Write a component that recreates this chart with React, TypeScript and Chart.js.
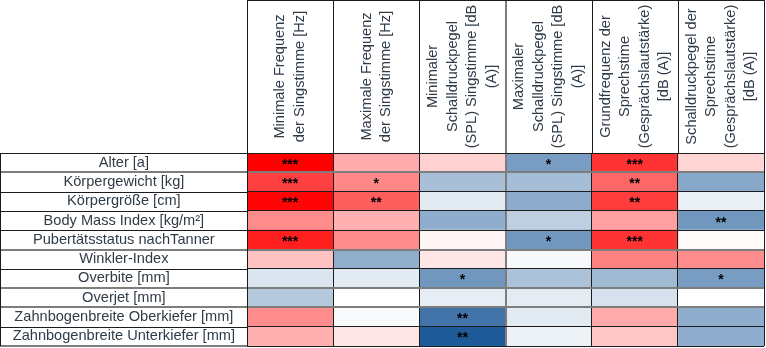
import React, { useEffect, useRef } from "react";
import { Chart, registerables } from "chart.js";

Chart.register(...registerables);

const rowLabels = [
  "Alter [a]",
  "Körpergewicht [kg]",
  "Körpergröße [cm]",
  "Body Mass Index [kg/m²]",
  "Pubertätsstatus nachTanner",
  "Winkler-Index",
  "Overbite [mm]",
  "Overjet [mm]",
  "Zahnbogenbreite Oberkiefer [mm]",
  "Zahnbogenbreite Unterkiefer [mm]",
];

const columnHeaders = [
  ["Minimale Frequenz", "der Singstimme [Hz]"],
  ["Maximale Frequenz", "der Singstimme [Hz]"],
  ["Minimaler", "Schalldruckpegel", "(SPL) Singstimme [dB", "(A)]"],
  ["Maximaler", "Schalldruckpegel", "(SPL) Singstimme [dB", "(A)]"],
  ["Grundfrequenz der", "Sprechstime", "(Gesprächslautstärke)", "[dB (A)]"],
  ["Schalldruckpegel der", "Sprechstime", "(Gesprächslautstärke)", "[dB (A)]"],
];

// signed correlation strength per column (positive = red, negative = blue)
const minFreqSing = [1.0, 0.75, 0.98, 0.45, 0.88, 0.24, -0.16, -0.33, 0.45, 0.31];
const maxFreqSing = [0.33, 0.47, 0.63, 0.31, 0.45, -0.49, -0.13, 0.0, -0.03, 0.1];
const minSplSing = [0.18, -0.39, -0.13, -0.5, 0.04, 0.1, -0.63, -0.11, -0.84, -1.0];
const maxSplSing = [-0.6, -0.4, -0.51, -0.29, -0.63, -0.04, -0.37, -0.12, -0.13, -0.08];
const f0Speech = [0.8, 0.6, 0.76, 0.37, 0.8, 0.49, -0.42, -0.18, 0.33, 0.22];
const splSpeech = [0.17, -0.53, -0.1, -0.63, 0.02, 0.45, -0.6, 0.0, -0.5, -0.5];

const starsMinFreq = ["***", "***", "***", "", "***", "", "", "", "", ""];
const starsMaxFreq = ["", "*", "**", "", "", "", "", "", "", ""];
const starsMinSpl = ["", "", "", "", "", "", "*", "", "**", "**"];
const starsMaxSpl = ["*", "", "", "", "*", "", "", "", "", ""];
const starsF0 = ["***", "**", "**", "", "***", "", "", "", "", ""];
const starsSpl = ["", "", "", "**", "", "", "*", "", "", ""];

const columnValues = [minFreqSing, maxFreqSing, minSplSing, maxSplSing, f0Speech, splSpeech];
const columnStars = [starsMinFreq, starsMaxFreq, starsMinSpl, starsMaxSpl, starsF0, starsSpl];

const FONT = "'Liberation Sans', Arial, sans-serif";
const TEXT_COLOR = "#2f3b47";
const LINE_COLOR = "#1c1c1c";
const SOFT_LINE = "#7d7d7d";
const softRowLines = [1, 5, 7, 8, 10];
const softColLines = [3];

function cellColor(v: number): string {
  const t = Math.min(1, Math.abs(v));
  if (v >= 0) {
    const c = Math.round(255 * (1 - t));
    return `rgb(255,${c},${c})`;
  }
  const r = Math.round(255 - t * (255 - 31));
  const g = Math.round(255 - t * (255 - 90));
  const b = Math.round(255 - t * (255 - 153));
  return `rgb(${r},${g},${b})`;
}

const tablePlugin = {
  id: "tableDecor",
  afterDraw(chart: any) {
    const ctx = chart.ctx;
    const xs = chart.scales.x;
    const ys = chart.scales.y;
    const area = chart.chartArea;
    const n = rowLabels.length;
    const step = (area.bottom - area.top) / n;

    ctx.save();
    // label column lines
    for (let i = 0; i <= n; i++) {
      const soft = softRowLines.includes(i);
      ctx.strokeStyle = soft ? SOFT_LINE : LINE_COLOR;
      ctx.lineWidth = soft ? 2 : 1;
      const y = soft ? Math.round(area.top + i * step) : Math.round(area.top + i * step) + 0.5;
      ctx.beginPath();
      ctx.moveTo(0, y);
      ctx.lineTo(area.left, y);
      ctx.stroke();
    }
    ctx.strokeStyle = LINE_COLOR;
    ctx.lineWidth = 1;
    ctx.beginPath();
    ctx.moveTo(0.5, Math.round(area.top) + 0.5);
    ctx.lineTo(0.5, Math.round(area.bottom));
    ctx.stroke();

    // header lines
    for (let i = 0; i <= columnHeaders.length; i++) {
      const soft = softColLines.includes(i);
      ctx.strokeStyle = soft ? SOFT_LINE : LINE_COLOR;
      ctx.lineWidth = soft ? 2 : 1;
      const xv = xs.getPixelForValue(i);
      const x = soft ? Math.round(xv) : Math.round(xv) + 0.5;
      ctx.beginPath();
      ctx.moveTo(x, 0);
      ctx.lineTo(x, area.top);
      ctx.stroke();
    }
    ctx.strokeStyle = LINE_COLOR;
    ctx.lineWidth = 1;
    ctx.beginPath();
    ctx.moveTo(Math.round(xs.getPixelForValue(0)) + 0.5, 0.5);
    ctx.lineTo(Math.round(xs.getPixelForValue(columnHeaders.length)) + 0.5, 0.5);
    ctx.stroke();

    // header text
    ctx.fillStyle = TEXT_COLOR;
    ctx.font = `14.6px ${FONT}`;
    ctx.textAlign = "center";
    ctx.textBaseline = "middle";
    const lh = 19.5;
    columnHeaders.forEach((lines, i) => {
      const cx = (xs.getPixelForValue(i) + xs.getPixelForValue(i + 1)) / 2;
      const cy = area.top / 2;
      ctx.save();
      ctx.translate(cx, cy);
      ctx.rotate(-Math.PI / 2);
      lines.forEach((line, j) => {
        ctx.fillText(line, 0, (j - (lines.length - 1) / 2) * lh);
      });
      ctx.restore();
    });

    // significance stars
    ctx.fillStyle = "#000";
    ctx.font = `bold 14px ${FONT}`;
    ctx.textBaseline = "alphabetic";
    columnStars.forEach((stars, ci) => {
      const cx = (xs.getPixelForValue(ci) + xs.getPixelForValue(ci + 1)) / 2;
      stars.forEach((s, ri) => {
        if (!s) return;
        const cy = ys.getPixelForValue(ri);
        ctx.fillText(s, cx, cy + 6);
      });
    });
    ctx.restore();
  },
};

export default function App() {
  const ref = useRef<HTMLCanvasElement | null>(null);

  useEffect(() => {
    document.body.style.margin = "0";
    const canvas = ref.current;
    if (!canvas) return;
    const datasets = columnValues.map((vals, i) => ({
      label: columnHeaders[i].join(" "),
      data: vals.map(() => 1),
      backgroundColor: vals.map(cellColor),
      borderWidth: 0,
      barPercentage: 1,
      categoryPercentage: 1,
    }));
    const chart = new Chart(canvas, {
      type: "bar",
      data: { labels: rowLabels, datasets },
      plugins: [tablePlugin],
      options: {
        indexAxis: "y",
        animation: false,
        responsive: false,
        devicePixelRatio: 1,
        layout: { padding: { top: 153, right: 2, bottom: 2, left: 0 } },
        plugins: { legend: { display: false }, tooltip: { enabled: false } },
        scales: {
          x: {
            type: "linear",
            stacked: true,
            min: 0,
            max: columnHeaders.length,
            position: "top",
            ticks: { display: false, stepSize: 1 },
            grid: {
              color: (c: any) => (softColLines.includes(c.index) ? SOFT_LINE : LINE_COLOR),
              lineWidth: (c: any) => (softColLines.includes(c.index) ? 2 : 1),
              drawTicks: false,
              z: 1,
            },
            border: { display: true, color: LINE_COLOR, z: 1 },
            afterFit: (s: any) => {
              s.height = 0;
            },
          },
          y: {
            type: "category",
            stacked: true,
            offset: true,
            grid: {
              offset: true,
              color: (c: any) => (softRowLines.includes(c.index) ? SOFT_LINE : LINE_COLOR),
              lineWidth: (c: any) => (softRowLines.includes(c.index) ? 2 : 1),
              drawTicks: false,
              z: 1,
            },
            border: { display: true, color: LINE_COLOR, z: 1 },
            ticks: {
              autoSkip: false,
              crossAlign: "center",
              padding: 12,
              color: TEXT_COLOR,
              font: { family: FONT, size: 14.6 },
            },
            afterFit: (s: any) => {
              s.width = 247;
              s.paddingTop = 0;
              s.paddingBottom = 0;
            },
          },
        },
      },
    } as any);
    return () => chart.destroy();
  }, []);

  return (
    <div style={{ width: 766, height: 348 }}>
      <canvas ref={ref} width={766} height={348} />
    </div>
  );
}
